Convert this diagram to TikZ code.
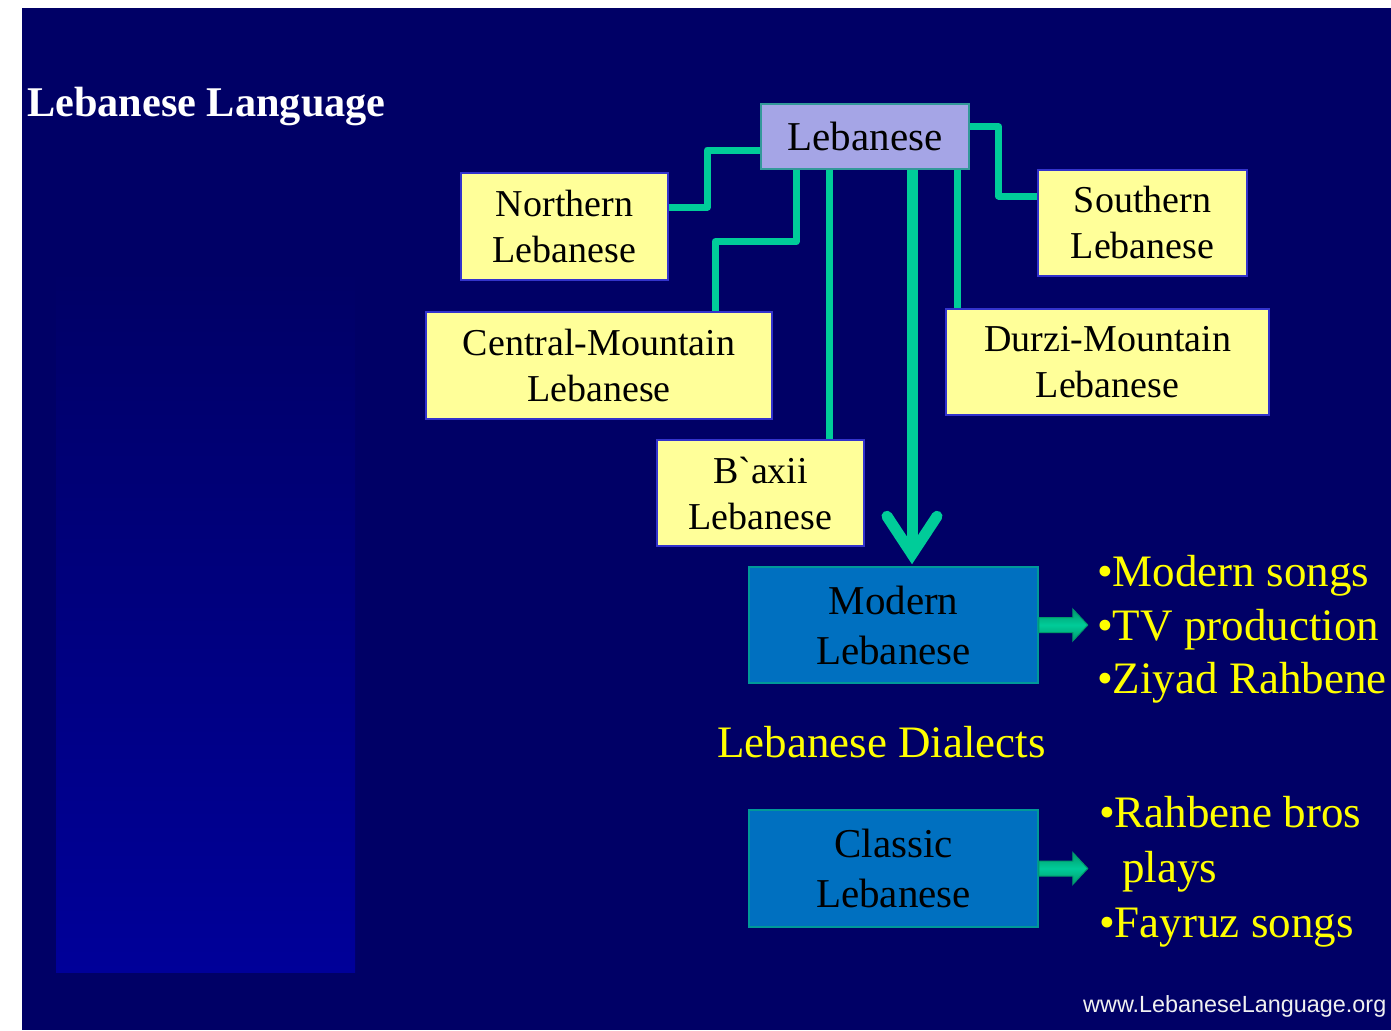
\documentclass[tikz,border=0pt]{standalone}
\usepackage{fontspec}
\setmainfont{Liberation Serif}
\newfontfamily\rawserif{Liberation Serif}
\newfontfamily\arialfont{Liberation Sans}
\usetikzlibrary{arrows.meta,calc}
\definecolor{slidebg}{HTML}{000066}
\definecolor{gradbot}{HTML}{000099}
\definecolor{connteal}{HTML}{00CC99}
\definecolor{darkteal}{HTML}{00996B}
\definecolor{boxyellow}{HTML}{FFFF99}
\definecolor{yborder}{HTML}{3333CC}
\definecolor{lavfill}{HTML}{A5A5E6}
\definecolor{lavborder}{HTML}{339999}
\definecolor{boxblue}{HTML}{0070C0}
\definecolor{blueborder}{HTML}{009999}
\definecolor{txtyellow}{HTML}{FFFF00}
\definecolor{webgray}{HTML}{F0F0F0}
\begin{document}
\begin{tikzpicture}[x=1pt,y=-1pt,
  ybox/.style={draw=yborder, line width=1.5pt, fill=boxyellow, inner sep=0pt, align=center,
    font=\fontsize{38}{46}\selectfont},
  bbox/.style={draw=blueborder, line width=1.5pt, fill=boxblue, inner sep=0pt, align=center,
    font=\fontsize{41}{50}\selectfont},
  topbox/.style={draw=lavborder, line width=1.5pt, fill=lavfill, inner sep=0pt, align=center,
    font=\fontsize{41}{50}\selectfont},
  conn/.style={draw=connteal, line width=7pt, line join=round},
  mainarrow/.style={draw=connteal, line width=11pt,
    -{Straight Barb[length=38pt,width=50pt,line cap=round,line join=miter]}},
  blockarrow/.style={draw=darkteal, line width=1pt, top color=darkteal, bottom color=darkteal, middle color=connteal},
  bullettext/.style={anchor=base west, inner sep=0pt, text=txtyellow, font=\fontsize{45}{54}\selectfont},
]
\useasboundingbox (0,0) rectangle (1391,1030);
\fill[white] (0,0) rectangle (1391,1030);
\fill[slidebg] (22,8) rectangle (1391,1030);
\shade[top color=slidebg, bottom color=gradbot] (56,270) rectangle (355,972);

\node[anchor=base west, inner sep=0pt, text=white, font=\fontsize{42.3}{50}\selectfont\bfseries]
  (title) at (27,117) {Lebanese Language};

\node[topbox, minimum width=208pt, minimum height=65pt] (leb) at (865,136.5) {Lebanese};
\node[ybox, minimum width=207pt, minimum height=107pt] (north) at (564.5,226.5) {Northern\\Lebanese};
\node[ybox, minimum width=209pt, minimum height=106pt] (south) at (1142.5,223) {Southern\\Lebanese};
\node[ybox, minimum width=346pt, minimum height=107pt] (central) at (599,365.5) {Central-Mountain\\Lebanese};
\node[ybox, minimum width=323pt, minimum height=106pt] (durzi) at (1107.5,362) {Durzi-Mountain\\Lebanese};
\node[ybox, minimum width=207pt, minimum height=106pt] (baxii) at (760.5,493) {B{\rawserif`}axii\\Lebanese};
\node[bbox, minimum width=289pt, minimum height=116pt] (modern) at (893.5,625) {Modern\\Lebanese};
\node[bbox, minimum width=289pt, minimum height=117pt] (classic) at (893.5,868.5) {Classic\\Lebanese};

% connectors
\draw[conn] ([yshift=-13.5pt]leb.west) -- ++(-53pt,0pt) |- ([yshift=19.5pt]north.east);
\draw[conn] ([xshift=-69pt]leb.south) -- ++(0pt,-72pt) -| ([xshift=116pt]central.north);
\draw[conn] ([xshift=-36pt]leb.south) -- ([xshift=-36pt]leb.south |- baxii.north);
\draw[conn] ([xshift=92pt]leb.south) -- ([xshift=92pt]leb.south |- durzi.north);
\draw[conn] ([yshift=9.5pt]leb.east) -- ++(29pt,0pt) |- ([yshift=27pt]south.west);
\draw[mainarrow] ([xshift=47pt]leb.south) -- ([xshift=47pt,yshift=2pt]leb.south |- modern.north);

% block arrows
\path[blockarrow] (modern.east) ++(0pt,7.5pt) -- ++(34pt,0pt) -- ++(0pt,8.5pt) -- ++(15pt,-16pt)
  -- ++(-15pt,-16pt) -- ++(0pt,8.5pt) -- ++(-34pt,0pt) -- cycle;
\path[blockarrow] (classic.east) ++(0pt,7.5pt) -- ++(34pt,0pt) -- ++(0pt,8.5pt) -- ++(15pt,-16pt)
  -- ++(-15pt,-16pt) -- ++(0pt,8.5pt) -- ++(-34pt,0pt) -- cycle;

% lists
\node[bullettext] (m1) at (1097,586) {\textbullet Modern songs};
\node[bullettext] (m2) at (1097,640) {\textbullet TV production};
\node[bullettext] (m3) at (1097,693) {\textbullet Ziyad Rahbene};
\node[bullettext] (c1) at (1099,827) {\textbullet Rahbene bros};
\node[bullettext] (c2) at (1122,882) {plays};
\node[bullettext] (c3) at (1099,937) {\textbullet Fayruz songs};

\node[bullettext] (dialects) at (717,757) {Lebanese Dialects};

\node[anchor=base west, inner sep=0pt, text=webgray, font=\arialfont\fontsize{23.4}{28}\selectfont]
  (web) at (1083,1012) {www.LebaneseLanguage.org};
\end{tikzpicture}
\end{document}
